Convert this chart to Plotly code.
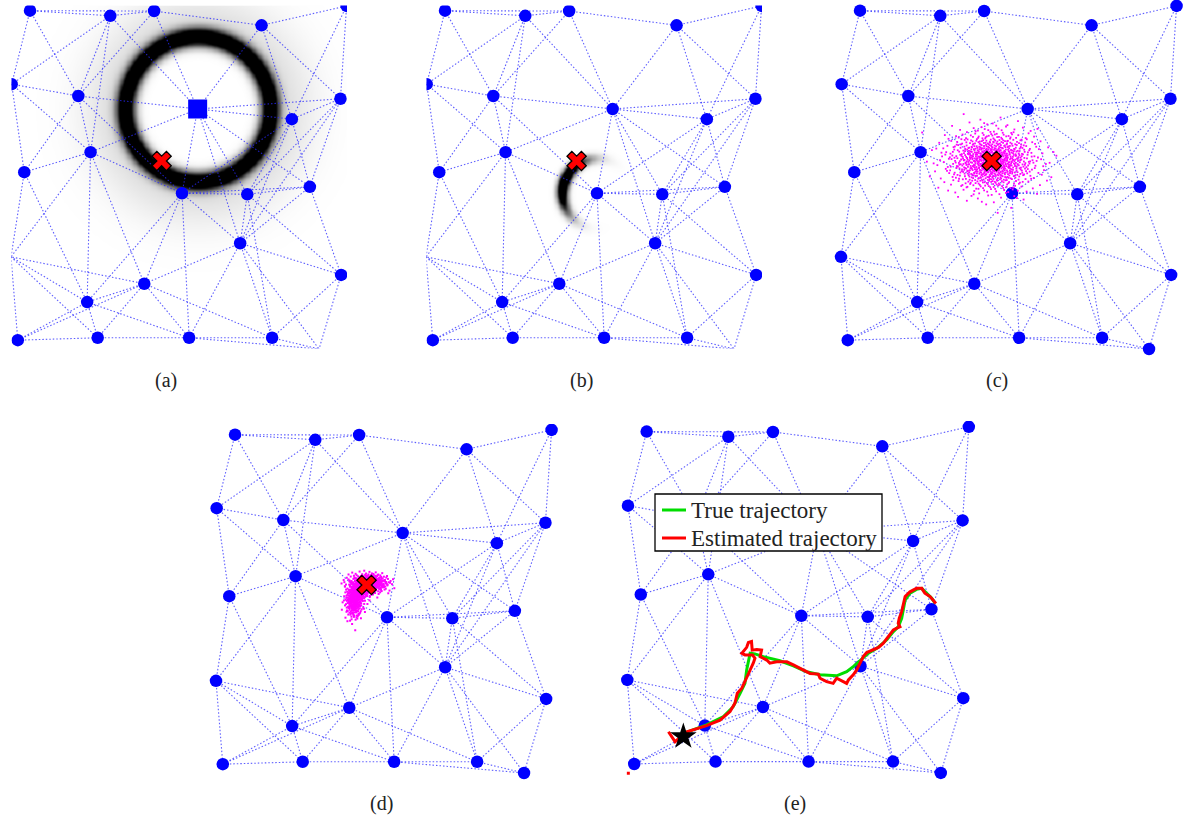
import numpy as np
import plotly.graph_objects as go

FIG_W, FIG_H = 1189, 825

# Sensor node coordinates (m)
node_x = [5.6, 29.2, 42.1, 73.7, 98.7, 0.2, 19.8, 54.9, 96.9, 82.6, 23.4, 3.9, 50.3,
          69.5, 87.9, 67.4, 97.1, 39.2, 22.4, 0.0, 2.0, 25.5, 52.4, 76.8, 90.6]
node_y = [99.5, 98.0, 99.4, 95.2, 100.9, 77.9, 74.4, 70.6, 73.6, 67.6, 57.9, 52.0, 45.8,
          45.5, 47.7, 31.1, 21.8, 19.2, 13.8, 27.1, 2.6, 3.3, 3.3, 3.3, 0.0]

# Radio links between nodes (index pairs)
links = [(0, 1), (0, 2), (0, 5), (0, 6), (1, 2), (1, 5), (1, 6), (1, 7), (1, 10),
         (2, 3), (2, 6), (2, 7), (3, 4), (3, 7), (3, 8), (3, 9), (4, 8), (4, 9),
         (5, 6), (5, 10), (5, 11), (6, 7), (6, 10), (6, 11), (6, 12),
         (7, 8), (7, 9), (7, 10), (7, 12), (7, 13), (7, 14), (7, 15),
         (8, 9), (8, 13), (8, 14), (8, 15), (9, 12), (9, 13), (9, 14), (9, 15),
         (10, 11), (10, 12), (10, 17), (10, 18), (10, 19), (11, 18), (11, 19),
         (12, 13), (12, 14), (12, 15), (12, 17), (12, 18), (12, 22),
         (13, 14), (13, 15), (13, 16), (13, 23), (14, 15), (14, 16),
         (15, 16), (15, 17), (15, 22), (15, 23), (15, 24), (16, 23), (16, 24),
         (17, 18), (17, 19), (17, 20), (17, 21), (17, 22), (17, 23),
         (18, 19), (18, 20), (18, 21), (18, 22), (19, 20), (19, 21),
         (20, 21), (21, 22), (22, 23), (22, 24), (23, 24)]

# Target and range measurements
target_x, target_y = 44.3, 55.3
anchor_node = 7          # node measuring the range in (a)
range_a = 21.2           # measured range from the anchor (m)
sigma_a = 1.9
arc_node = 12            # node measuring the range in (b)
range_b = 10.3
sigma_b = 1.1
arc_heading = 160.0      # bearing (deg) favoured by the prior in (b)
arc_spread = 35.0

# Particle clouds: (centre x, centre y, std x, std y, count)
cloud_c = [(44.3, 55.3, 6.6, 4.6, 900)]
cloud_d = [(45.0, 55.8, 2.8, 1.4, 430), (42.4, 53.4, 1.5, 1.5, 160), (40.6, 50.6, 1.3, 2.6, 280)]

# Tracked path in (e)
true_x = [16.2, 22.9, 27.8, 30.6, 32.6, 34.0, 34.5, 35.0, 35.5, 36.9, 39.3, 44.1, 48.0,
          51.8, 55.7, 60.5, 63.4, 65.3, 67.3, 69.7, 72.1, 75.0, 76.9, 78.3, 79.3, 79.8,
          80.3, 81.7, 83.6, 85.1, 86.5, 88.0, 88.9]
true_y = [11.5, 14.0, 16.4, 19.3, 23.2, 26.1, 30.0, 32.9, 34.9, 34.7, 33.9, 32.7, 31.2,
          29.5, 28.6, 28.3, 29.5, 31.0, 32.9, 34.9, 36.3, 38.8, 41.2, 42.6, 45.1, 47.5,
          50.4, 52.4, 53.5, 53.8, 52.4, 50.9, 49.6]
est_x = [11.9, 13.8, 17.2, 22.9, 26.8, 29.7, 31.1, 31.8, 33.1, 34.3, 35.5, 36.4, 36.9,
         36.2, 34.0, 33.1, 34.5, 35.0, 35.9, 36.1, 37.4, 38.8, 38.4, 40.3, 41.2, 43.2,
         46.1, 48.0, 50.9, 52.8, 55.2, 55.7, 57.6, 59.5, 60.5, 62.0, 63.4, 63.9, 65.3,
         66.3, 67.3, 68.2, 69.2, 71.1, 72.6, 74.0, 75.0, 75.9, 76.9, 77.9, 78.8, 78.3,
         78.6, 79.3, 79.8, 80.3, 81.7, 83.6, 85.1, 86.0, 87.5, 88.4, 89.2]
est_y = [12.0, 9.1, 12.0, 13.8, 15.4, 17.9, 20.3, 23.2, 24.7, 27.6, 30.0, 32.0, 33.4,
         34.4, 34.4, 34.9, 36.6, 38.0, 38.3, 35.8, 36.0, 35.8, 33.9, 32.9, 32.0, 32.4,
         32.4, 31.5, 30.0, 29.0, 28.8, 27.6, 26.6, 26.1, 27.6, 26.9, 26.1, 27.1, 28.6,
         30.0, 32.0, 33.9, 35.1, 36.0, 36.6, 37.8, 39.2, 40.2, 41.7, 42.2, 42.6, 43.6,
         45.1, 47.0, 49.4, 51.4, 52.8, 53.8, 53.8, 52.4, 51.4, 50.4, 49.4]
est_origin = (0.3, -0.1)
start_x, start_y = 16.2, 10.6

panel_names = ["(a)", "(b)", "(c)", "(d)", "(e)"]

# Page layout of each panel: data origin in px, px per metre, axes box in px
panels = [
    dict(ox=11.0, oy=349.0, sx=3.4, sy=3.4, box=(11.5, 347.0, 5.5, 348.5), label=(166, 380)),
    dict(ox=426.0, oy=349.0, sx=3.4, sy=3.4, box=(426.5, 762.0, 5.5, 348.5), label=(581, 380)),
    dict(ox=841.0, oy=349.0, sx=3.4, sy=3.4, box=(834.0, 1186.0, 0.0, 356.0), label=(997, 380)),
    dict(ox=216.0, oy=773.0, sx=3.4, sy=3.4, box=(209.0, 561.0, 424.0, 780.0), label=(381, 803)),
    dict(ox=627.3, oy=772.9, sx=3.46, sy=3.43, box=(620.0, 978.0, 421.0, 781.0), label=(795, 803)),
]

NODE_BLUE = "#0000ff"
LINK_COLOR = "rgba(40,40,255,0.75)"

fig = go.Figure()
layout = dict(width=FIG_W, height=FIG_H, margin=dict(l=0, r=0, t=0, b=0),
              paper_bgcolor="white", plot_bgcolor="white", showlegend=False)


def ax_names(i):
    s = "" if i == 0 else str(i + 1)
    return "x" + s, "y" + s, "xaxis" + s, "yaxis" + s


def panel_ranges(p):
    bx0, bx1, by0, by1 = p["box"]
    xr = [(bx0 - p["ox"]) / p["sx"], (bx1 - p["ox"]) / p["sx"]]
    yr = [(p["oy"] - by1) / p["sy"], (p["oy"] - by0) / p["sy"]]
    return xr, yr


def link_trace(xa, ya):
    lx, ly = [], []
    for a, b in links:
        lx += [node_x[a], node_x[b], None]
        ly += [node_y[a], node_y[b], None]
    return go.Scatter(x=lx, y=ly, mode="lines", xaxis=xa, yaxis=ya, hoverinfo="skip",
                      line=dict(color=LINK_COLOR, width=1.1, dash="1.5px,2px"))


def node_trace(xa, ya, idx):
    return go.Scatter(x=[node_x[k] for k in idx], y=[node_y[k] for k in idx], mode="markers",
                      xaxis=xa, yaxis=ya, hoverinfo="skip",
                      marker=dict(color=NODE_BLUE, size=12.5, line=dict(width=0)))


def target_trace(xa, ya):
    return go.Scatter(x=[target_x], y=[target_y], mode="markers", xaxis=xa, yaxis=ya,
                      hoverinfo="skip",
                      marker=dict(symbol="x", color="#ff0000", size=17,
                                  line=dict(color="black", width=1.3)))


def halton(n, base):
    out = np.zeros(n)
    for i in range(n):
        f, r, k = 1.0, 0.0, i + 1
        while k > 0:
            f /= base
            r += f * (k % base)
            k //= base
        out[i] = r
    return out


def norm_ppf(p):
    # Acklam's rational approximation of the inverse normal CDF
    a = [-3.969683028665376e+01, 2.209460984245205e+02, -2.759285104469687e+02,
         1.383577518672690e+02, -3.066479806614716e+01, 2.506628277459239e+00]
    b = [-5.447609879822406e+01, 1.615858368580409e+02, -1.556989798598866e+02,
         6.680131188771972e+01, -1.328068155288572e+01]
    c = [-7.784894002430293e-03, -3.223964580411365e-01, -2.400758277161838e+00,
         -2.549732539343734e+00, 4.374664141464968e+00, 2.938163982698783e+00]
    d = [7.784695709041462e-03, 3.224671290700398e-01, 2.445134137142996e+00,
         3.754408661907416e+00]
    p = np.asarray(p, dtype=float)
    x = np.empty_like(p)
    lo, hi = 0.02425, 1 - 0.02425
    m = p < lo
    q = np.sqrt(-2 * np.log(p[m]))
    x[m] = (((((c[0]*q+c[1])*q+c[2])*q+c[3])*q+c[4])*q+c[5]) / ((((d[0]*q+d[1])*q+d[2])*q+d[3])*q+1)
    m = p > hi
    q = np.sqrt(-2 * np.log(1 - p[m]))
    x[m] = -(((((c[0]*q+c[1])*q+c[2])*q+c[3])*q+c[4])*q+c[5]) / ((((d[0]*q+d[1])*q+d[2])*q+d[3])*q+1)
    m = (p >= lo) & (p <= hi)
    q = p[m] - 0.5
    r = q * q
    x[m] = (((((a[0]*r+a[1])*r+a[2])*r+a[3])*r+a[4])*r+a[5]) * q / (((((b[0]*r+b[1])*r+b[2])*r+b[3])*r+b[4])*r+1)
    return x


def particles(spec):
    # Halton(2,3) points mapped to Gaussian spreads
    px, py = [], []
    start = 0
    for cx, cy, sx, sy, n in spec:
        u1 = halton(start + n, 2)[start:]
        u2 = halton(start + n, 3)[start:]
        start += n
        px.append(cx + sx * norm_ppf(u1))
        py.append(cy + sy * norm_ppf(u2))
    return np.concatenate(px), np.concatenate(py)


def cloud_trace(xa, ya, spec, size):
    px, py = particles(spec)
    return go.Scatter(x=px, y=py, mode="markers", xaxis=xa, yaxis=ya, hoverinfo="skip",
                      marker=dict(symbol="square", color="#ff00ff", size=size, line=dict(width=0)))


gx = np.arange(-2.0, 103.0, 0.35)
gy = np.arange(-2.0, 103.0, 0.35)
GX, GY = np.meshgrid(gx, gy)
GRAY = [[0.0, "#ffffff"], [1.0, "#000000"]]


def window_nodes(p, skip=()):
    xr, yr = panel_ranges(p)
    return [k for k in range(len(node_x))
            if xr[0] <= node_x[k] <= xr[1] and yr[0] <= node_y[k] <= yr[1] and k not in skip]


for i, p in enumerate(panels):
    xa, ya, xk, yk = ax_names(i)
    xr, yr = panel_ranges(p)
    bx0, bx1, by0, by1 = p["box"]
    layout[xk] = dict(domain=[bx0 / FIG_W, bx1 / FIG_W], range=xr, visible=False,
                      fixedrange=True, anchor=ya)
    layout[yk] = dict(domain=[1 - by1 / FIG_H, 1 - by0 / FIG_H], range=yr, visible=False,
                      fixedrange=True, anchor=xa)

# (a) range likelihood around the anchor
d_a = np.hypot(GX - node_x[anchor_node], GY - node_y[anchor_node]) - range_a
z_a = np.exp(-d_a ** 2 / (2 * sigma_a ** 2)) + np.where(d_a > 0, 0.1 * np.exp(-d_a ** 2 / (2 * 9.0 ** 2)), 0)
fig.add_trace(go.Heatmap(x=gx, y=gy, z=z_a, colorscale=GRAY, zmin=0, zmax=0.7, zsmooth="best",
                         showscale=False, hoverinfo="skip", xaxis="x", yaxis="y"))
fig.add_trace(link_trace("x", "y"))
fig.add_trace(node_trace("x", "y", window_nodes(panels[0], skip=(anchor_node,))))
fig.add_trace(go.Scatter(x=[node_x[anchor_node]], y=[node_y[anchor_node]], mode="markers",
                         xaxis="x", yaxis="y", hoverinfo="skip",
                         marker=dict(symbol="square", color=NODE_BLUE, size=19)))
fig.add_trace(target_trace("x", "y"))

# (b) posterior after the second range measurement
d_b = np.hypot(GX - node_x[arc_node], GY - node_y[arc_node]) - range_b
ang = np.degrees(np.arctan2(GY - node_y[arc_node], GX - node_x[arc_node]))
dang = (ang - arc_heading + 180.0) % 360.0 - 180.0
z_b = np.exp(-d_b ** 2 / (2 * sigma_b ** 2)) * np.exp(-dang ** 2 / (2 * arc_spread ** 2))
fig.add_trace(go.Heatmap(x=gx, y=gy, z=z_b, colorscale=GRAY, zmin=0, zmax=0.55, zsmooth="best",
                         showscale=False, hoverinfo="skip", xaxis="x2", yaxis="y2"))
fig.add_trace(link_trace("x2", "y2"))
fig.add_trace(node_trace("x2", "y2", window_nodes(panels[1])))
fig.add_trace(target_trace("x2", "y2"))

# (c) initial particle set
fig.add_trace(link_trace("x3", "y3"))
fig.add_trace(node_trace("x3", "y3", range(len(node_x))))
fig.add_trace(cloud_trace("x3", "y3", cloud_c, 1.8))
fig.add_trace(target_trace("x3", "y3"))

# (d) particles after the update
fig.add_trace(link_trace("x4", "y4"))
fig.add_trace(node_trace("x4", "y4", range(len(node_x))))
fig.add_trace(cloud_trace("x4", "y4", cloud_d, 2.0))
fig.add_trace(target_trace("x4", "y4"))

# (e) tracking result
fig.add_trace(link_trace("x5", "y5"))
fig.add_trace(node_trace("x5", "y5", range(len(node_x))))
fig.add_trace(go.Scatter(x=true_x, y=true_y, mode="lines", xaxis="x5", yaxis="y5",
                         hoverinfo="skip", line=dict(color="#00dd00", width=3)))
fig.add_trace(go.Scatter(x=est_x, y=est_y, mode="lines", xaxis="x5", yaxis="y5",
                         hoverinfo="skip", line=dict(color="#ff0000", width=3)))
fig.add_trace(go.Scatter(x=[est_origin[0]], y=[est_origin[1]], mode="markers", xaxis="x5",
                         yaxis="y5", hoverinfo="skip",
                         marker=dict(symbol="square", color="#ff0000", size=3)))
fig.add_trace(go.Scatter(x=[start_x], y=[start_y], mode="markers", xaxis="x5", yaxis="y5",
                         hoverinfo="skip", marker=dict(symbol="star", color="black", size=20)))

# legend box for (e)
lx0, lx1, ly0, ly1 = 655, 882, 494, 551
shapes = [dict(type="rect", xref="paper", yref="paper", x0=lx0 / FIG_W, x1=lx1 / FIG_W,
               y0=1 - ly1 / FIG_H, y1=1 - ly0 / FIG_H, line=dict(color="black", width=1.3),
               fillcolor="white", layer="above")]
annotations = []
for (txt, col, yy) in [("True trajectory", "#00dd00", 510), ("Estimated trajectory", "#ff0000", 538)]:
    shapes.append(dict(type="line", xref="paper", yref="paper", x0=662 / FIG_W, x1=686 / FIG_W,
                       y0=1 - yy / FIG_H, y1=1 - yy / FIG_H, line=dict(color=col, width=3),
                       layer="above"))
    annotations.append(dict(text=txt, xref="paper", yref="paper", x=689 / FIG_W, y=1 - yy / FIG_H,
                            xanchor="left", yanchor="middle", showarrow=False,
                            font=dict(family="Liberation Serif", size=23, color="#222")))

for p, name in zip(panels, panel_names):
    lxp, lyp = p["label"]
    annotations.append(dict(text=name, xref="paper", yref="paper", x=lxp / FIG_W, y=1 - lyp / FIG_H,
                            xanchor="center", yanchor="middle", showarrow=False,
                            font=dict(family="Liberation Serif", size=20, color="#222")))

layout["shapes"] = shapes
layout["annotations"] = annotations
fig.update_layout(**layout)
fig.write_html("out.html")
